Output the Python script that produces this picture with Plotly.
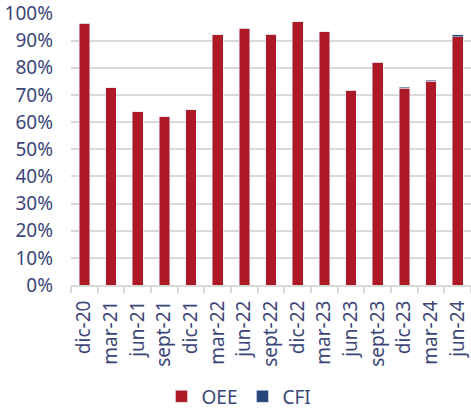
import plotly.graph_objects as go

categories = ["dic-20", "mar-21", "jun-21", "sept-21", "dic-21", "mar-22", "jun-22",
              "sept-22", "dic-22", "mar-23", "jun-23", "sept-23", "dic-23", "mar-24", "jun-24"]
oee = [0.964, 0.726, 0.638, 0.619, 0.646, 0.922, 0.945, 0.924, 0.970, 0.933,
       0.718, 0.820, 0.724, 0.751, 0.914]
cfi = [0.0, 0.0, 0.0, 0.0, 0.0, 0.0, 0.0, 0.0, 0.0, 0.0,
       0.0, 0.0, 0.005, 0.004, 0.007]

text_color = "#3B4677"
font_family = "Noto Sans, Open Sans, sans-serif"

fig = go.Figure()
fig.add_trace(go.Bar(x=categories, y=oee, name="OEE", marker_color="#AE1926"))
fig.add_trace(go.Bar(x=categories, y=cfi, name="CFI", marker_color="#26477A"))

fig.update_layout(
    width=471, height=411,
    barmode="stack", bargap=0.6,
    margin=dict(l=71, r=0, t=13, b=126, autoexpand=False),
    paper_bgcolor="white", plot_bgcolor="white",
    font=dict(family=font_family, size=19, color=text_color),
    legend=dict(orientation="h", x=0.42, xanchor="center", y=-0.41, yanchor="middle",
                font=dict(size=19, color=text_color), itemwidth=30, traceorder="normal"),
    xaxis=dict(
        tickangle=-90, tickson="boundaries", ticks="outside", ticklen=6,
        tickcolor="#D9D9D9", tickwidth=2, showline=True, linecolor="#D9D9D9", linewidth=2,
        showgrid=False, tickfont=dict(size=19, color=text_color), automargin=False,
        ticklabelstandoff=6,
    ),
    yaxis=dict(
        range=[0, 1.002], dtick=0.1, tick0=0, tickformat=".0%", showgrid=True, gridcolor="#D9D9D9",
        gridwidth=2, zeroline=False, tickfont=dict(size=19, color=text_color),
        ticks="", ticklabelstandoff=17, automargin=False,
    ),
)

fig.write_html("out.html", config={"displayModeBar": False},
               post_script="document.body.style.margin='0';document.body.style.padding='0';")
